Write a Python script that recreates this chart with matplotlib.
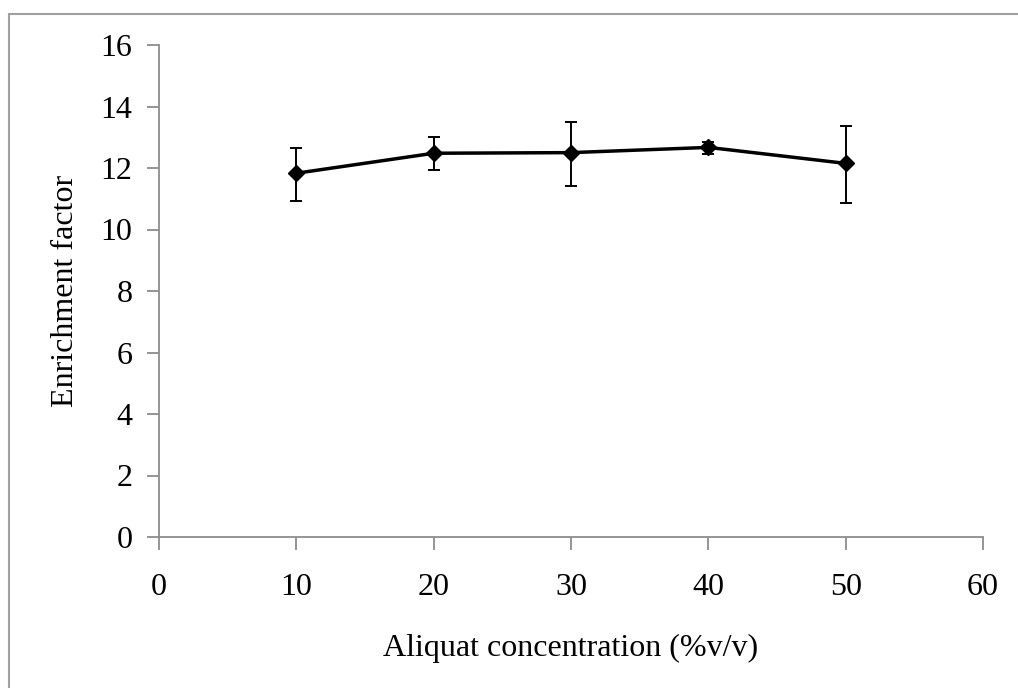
import numpy as np
import matplotlib.pyplot as plt
from matplotlib.patches import Rectangle

# Enrichment factor vs Aliquat concentration
conc = [10, 20, 30, 40, 50]
enrichment = [11.83, 12.48, 12.50, 12.67, 12.15]
err_low = [0.89, 0.54, 1.07, 0.22, 1.28]
err_high = [0.81, 0.52, 1.01, 0.19, 1.22]

plt.rcParams['font.family'] = ['Liberation Serif', 'DejaVu Serif']

fig = plt.figure(figsize=(10.18, 6.88), dpi=100)
ax = fig.add_axes([159/1018, 1 - 537/688, (983 - 159)/1018, (537 - 45)/688])

# outer frame of the chart area
fig.patches.append(Rectangle((9/1018, -0.05), 1.1, 1.05 - 14/688, transform=fig.transFigure,
                             fill=False, edgecolor='#a0a0a0', linewidth=1.5))

ax.errorbar(conc, enrichment, yerr=[err_low, err_high], color='black', linewidth=2.5,
            marker='D', markersize=8, ecolor='black', elinewidth=1.4, capsize=4.5, capthick=1.4)

ax.set_xlim(0, 60)
ax.set_ylim(0, 16)
ax.set_xticks(np.arange(0, 61, 10))
ax.set_yticks(np.arange(0, 17, 2))

for side in ['top', 'right']:
    ax.spines[side].set_visible(False)
for side in ['left', 'bottom']:
    ax.spines[side].set_color('#8c8c8c')
    ax.spines[side].set_linewidth(1.3)
ax.tick_params(direction='out', length=9, width=1.3, color='#8c8c8c', labelsize=23)
ax.tick_params(axis='x', pad=17)
ax.tick_params(axis='y', pad=10)

ax.set_xlabel('Aliquat concentration (%v/v)', fontsize=23, labelpad=23)
ax.set_ylabel('Enrichment factor', fontsize=23, labelpad=15)

fig.savefig('out.png', dpi=100)
